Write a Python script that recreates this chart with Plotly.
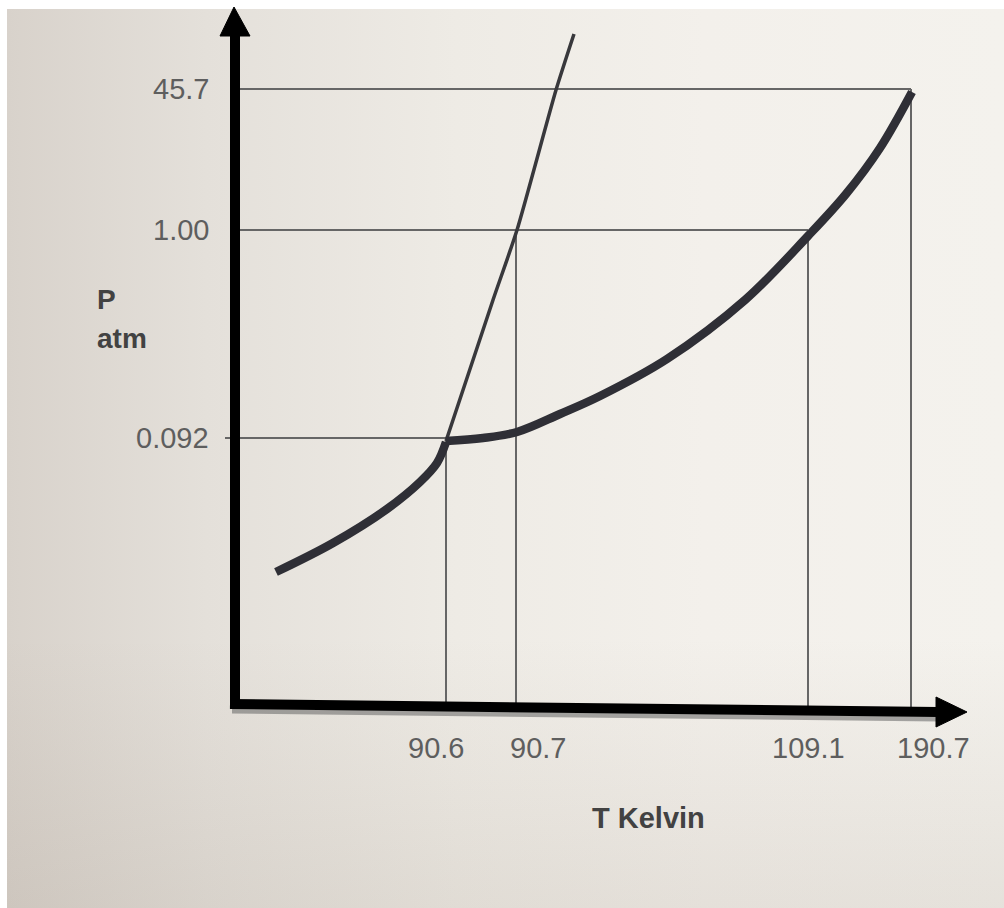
import plotly.graph_objects as go

# ---------------- data (schematic diagram units) ----------------
TEMP_LABELS = ["90.6", "90.7", "109.1", "190.7"]
TEMP_POS = [446, 516, 808, 911]
PRES_LABELS = ["0.092", "1.00", "45.7"]
PRES_POS = [438, 230, 89]

# sublimation curve (solid-gas)
SUB_T = [276, 333, 387, 420, 437, 446]
SUB_P = [572, 543, 509, 482, 463, 442]
# vaporization curve (liquid-gas), triple point -> critical point
VAP_T = [446, 483, 517, 560, 600, 667, 745, 808, 846, 880, 912]
VAP_P = [441, 438, 432, 414, 396, 359, 300, 236, 194, 148, 92]
# fusion curve (solid-liquid)
FUS_T = [446, 493, 517, 556, 574]
FUS_P = [441, 300, 230, 90, 34]

# ---------------- layout constants ----------------
W, H = 1004, 908
AX_X = 235          # vertical axis position
AX_Y0, AX_Y1 = 704, 712   # horizontal axis (slightly tilted photo)
AX_TOP = 36
AX_RIGHT = 938

FONT = "Liberation Sans, Arial, sans-serif"
TICK_COLOR = "#5e5e5e"
TITLE_COLOR = "#424242"
GUIDE = "#666666"
CURVE = "#2f2f36"

fig = go.Figure()

# photo background (gradient)
fig.add_trace(go.Scatter(
    x=[7, W, W, 7, 7], y=[9, 9, H, H, 9], mode="lines", fill="toself",
    line=dict(width=0), hoverinfo="skip", showlegend=False,
    fillgradient=dict(type="horizontal", start=7, stop=W,
                      colorscale=[[0, "#d8d2cb"], [0.2, "#e4e0da"], [0.45, "#eeebe5"],
                                  [0.7, "#f3f0eb"], [1, "#f4f2ed"]])))
fig.add_trace(go.Scatter(
    x=[7, W, W, 7, 7], y=[9, 9, H, H, 9], mode="lines", fill="toself",
    line=dict(width=0), hoverinfo="skip", showlegend=False,
    fillgradient=dict(type="vertical", start=9, stop=H,
                      colorscale=[[0, "rgba(140,125,110,0)"], [0.7, "rgba(140,125,110,0)"],
                                  [1, "rgba(140,125,110,0.14)"]])))

# guide lines built from tick positions
p_of = dict(zip(PRES_LABELS, PRES_POS))
t_of = dict(zip(TEMP_LABELS, TEMP_POS))
pairs_h = [("45.7", "190.7", AX_X), ("1.00", "109.1", AX_X), ("0.092", "90.6", AX_X - 10)]
pairs_v = [("90.6", "0.092"), ("90.7", "1.00"), ("109.1", "1.00"), ("190.7", "45.7")]
gx, gy = [], []
for p, t, x0 in pairs_h:
    gx += [x0, t_of[t], None]
    gy += [p_of[p], p_of[p], None]
for t, p in pairs_v:
    gx += [t_of[t], t_of[t], None]
    gy += [p_of[p], AX_Y0 + (t_of[t] - AX_X) / (AX_RIGHT - AX_X) * (AX_Y1 - AX_Y0), None]
fig.add_trace(go.Scatter(x=gx, y=gy, mode="lines", line=dict(color=GUIDE, width=2),
                         hoverinfo="skip", showlegend=False))

# fusion line
fig.add_trace(go.Scatter(x=FUS_T, y=FUS_P, mode="lines",
                         line=dict(color="#38383c", width=3.5, shape="spline", smoothing=0.6),
                         hoverinfo="skip", showlegend=False))
# sublimation & vaporization curves
for xs, ys in [(SUB_T, SUB_P), (VAP_T, VAP_P)]:
    fig.add_trace(go.Scatter(x=xs, y=ys, mode="lines",
                             line=dict(color=CURVE, width=8.5, shape="spline", smoothing=1.0),
                             hoverinfo="skip", showlegend=False))

# axes with arrows
shapes = [
    dict(type="line", x0=AX_X - 3, y0=AX_Y0 + 7, x1=AX_RIGHT, y1=AX_Y1 + 7,
         line=dict(color="rgba(100,100,100,0.55)", width=5)),
    dict(type="line", x0=AX_X, y0=AX_Y0 + 2, x1=AX_X, y1=AX_TOP, line=dict(color="black", width=10)),
    dict(type="line", x0=AX_X - 5, y0=AX_Y0, x1=AX_RIGHT, y1=AX_Y1, line=dict(color="black", width=10)),
    dict(type="path", path=f"M {AX_X-15},{AX_TOP} L {AX_X+15},{AX_TOP} L {AX_X-1},7 Z",
         fillcolor="black", line=dict(color="black", width=1)),
    dict(type="path", path=f"M {AX_RIGHT-2},{AX_Y1-15} L {AX_RIGHT-2},{AX_Y1+15} L 967,{AX_Y1} Z",
         fillcolor="black", line=dict(color="black", width=1)),
]

annotations = []
# pressure tick labels
for lab, pos in zip(PRES_LABELS, PRES_POS):
    annotations.append(dict(x=AX_X - 24, y=pos, text=lab, showarrow=False, xanchor="right",
                            yanchor="middle", font=dict(family=FONT, size=29, color=TICK_COLOR)))
# temperature tick labels (nudged as in original)
nudge = [-10, 22, 0, 22]
for lab, pos, dx in zip(TEMP_LABELS, TEMP_POS, nudge):
    annotations.append(dict(x=pos + dx, y=748, text=lab, showarrow=False, xanchor="center",
                            yanchor="middle", font=dict(family=FONT, size=29, color=TICK_COLOR)))
# axis titles
annotations += [
    dict(x=95, y=299, text="<b>P</b>", showarrow=False, xanchor="left", yanchor="middle",
         font=dict(family=FONT, size=28, color=TITLE_COLOR)),
    dict(x=95, y=338, text="<b>atm</b>", showarrow=False, xanchor="left", yanchor="middle",
         font=dict(family=FONT, size=28, color=TITLE_COLOR)),
    dict(x=648, y=818, text="<b>T Kelvin</b>", showarrow=False, xanchor="center", yanchor="middle",
         font=dict(family=FONT, size=29, color=TITLE_COLOR)),
]

fig.update_layout(
    width=W, height=H, margin=dict(l=0, r=0, t=0, b=0),
    paper_bgcolor="white", plot_bgcolor="white",
    xaxis=dict(range=[0, W], visible=False, fixedrange=True),
    yaxis=dict(range=[H, 0], visible=False, fixedrange=True),
    shapes=shapes, annotations=annotations, showlegend=False,
)

fig.write_html("out.html", config={"displayModeBar": False},
               post_script="document.body.style.margin='0';")
